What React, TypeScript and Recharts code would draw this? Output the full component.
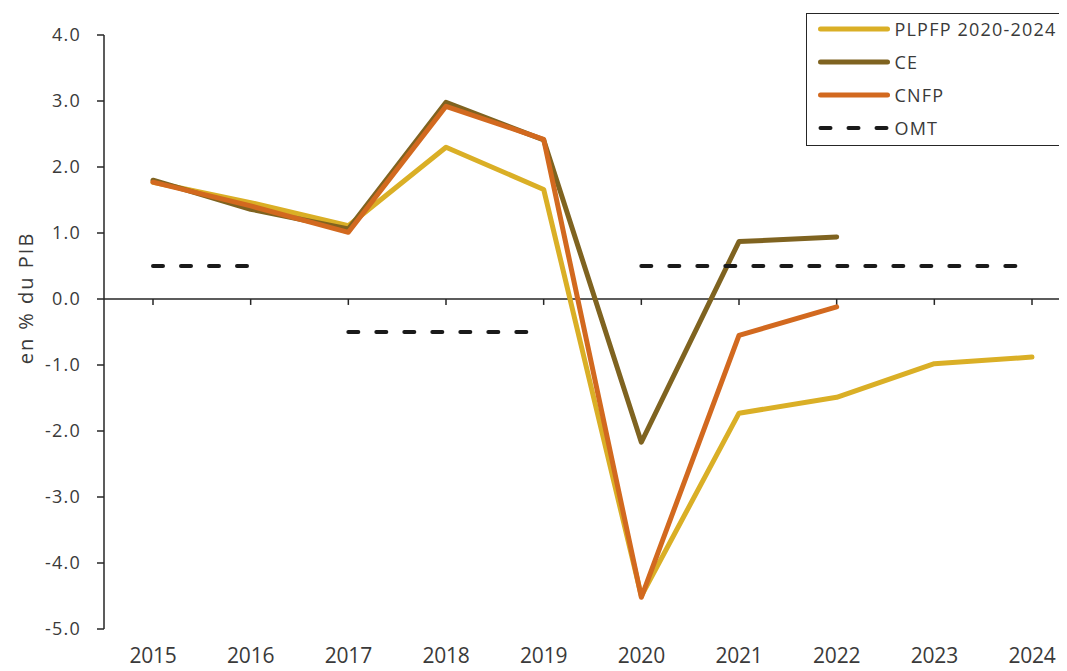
import {
  LineChart,
  Line,
  XAxis,
  YAxis,
  Legend,
  ReferenceLine,
} from "recharts";

const years = ["2015", "2016", "2017", "2018", "2019", "2020", "2021", "2022", "2023", "2024"];
const plpfp = [1.77, 1.46, 1.11, 2.3, 1.66, -4.5, -1.73, -1.49, -0.98, -0.88];
const ce = [1.8, 1.36, 1.06, 2.98, 2.41, -2.17, 0.87, 0.94, null, null];
const cnfp = [1.77, 1.41, 1.01, 2.92, 2.42, -4.52, -0.55, -0.12, null, null];
const omtHigh = [0.5, 0.5, null, null, null, 0.5, 0.5, 0.5, 0.5, 0.5];
const omtLow = [null, null, -0.5, -0.5, -0.5, null, null, null, null, null];
const yTicks = [-5, -4, -3, -2, -1, 0, 1, 2, 3, 4];
const legendOrder = ["PLPFP 2020-2024", "CE", "CNFP", "OMT"];

const data = years.map((year, i) => ({
  year,
  plpfp: plpfp[i],
  ce: ce[i],
  cnfp: cnfp[i],
  omtHigh: omtHigh[i],
  omtLow: omtLow[i],
}));

const FONT = "'Open Sans', sans-serif";
const TEXT = "#3a3a3a";
const AXIS = "#262626";

const tickStyle = { fontSize: 18, fill: TEXT, fontFamily: FONT, letterSpacing: 1.2 };
const xTickStyle = { fontSize: 21, fill: TEXT, fontFamily: FONT, letterSpacing: -0.2 };

// legend drawn as a bordered box like the source chart
function LegendBox({ payload }: any) {
  const items = legendOrder
    .map((name) => (payload || []).find((p: any) => p.value === name))
    .filter(Boolean);
  return (
    <div
      style={{
        border: `1.5px solid ${AXIS}`,
        height: 131,
        width: 300,
        boxSizing: "content-box",
        fontFamily: FONT,
        fontSize: 18,
        letterSpacing: 1.2,
        color: TEXT,
        background: "#fff",
      }}
    >
      <div style={{ marginTop: -2, paddingLeft: 10.5 }}>
        {items.map((entry: any) => (
          <div
            key={entry.value}
            style={{ display: "flex", alignItems: "center", height: 33 }}
          >
            <svg width={72} height={10} style={{ display: "block" }}>
              <line
                x1={2.5}
                y1={5}
                x2={69.5}
                y2={5}
                stroke={entry.color}
                strokeWidth={entry.payload?.strokeDasharray ? 4 : 5}
                strokeLinecap="round"
                strokeDasharray={entry.payload?.strokeDasharray}
              />
            </svg>
            <span style={{ marginLeft: 5, whiteSpace: "nowrap" }}>{entry.value}</span>
          </div>
        ))}
      </div>
    </div>
  );
}

function YLabel({ viewBox }: any) {
  const x = viewBox.x + 33;
  const y = viewBox.y + viewBox.height / 2 - 34;
  return (
    <text
      x={x}
      y={y}
      transform={`rotate(-90, ${x}, ${y})`}
      textAnchor="middle"
      fontSize={20}
      fill={TEXT}
      fontFamily={FONT}
      letterSpacing={2}
    >
      en % du PIB
    </text>
  );
}

export default function App() {
  return (
    <div style={{ margin: -8, width: 1067, height: 671, overflow: "hidden", background: "#fff" }}>
      <LineChart
        width={1067}
        height={671}
        data={data}
        margin={{ top: 35, right: 0, bottom: 0, left: 0 }}
      >
        <XAxis
          dataKey="year"
          height={42}
          padding={{ left: 49, right: 35 }}
          axisLine={false}
          tickLine={false}
          tickSize={6}
          tickMargin={13}
          tick={xTickStyle}
          interval={0}
        />
        <YAxis
          width={104}
          domain={[-5, 4]}
          ticks={yTicks}
          tickFormatter={(v: number) => v.toFixed(1)}
          axisLine={{ stroke: AXIS, strokeWidth: 1.5 }}
          tickLine={{ stroke: AXIS, strokeWidth: 1.5 }}
          tickSize={7}
          tickMargin={16}
          tick={tickStyle}
          interval={0}
          label={<YLabel />}
        />
        <ReferenceLine y={0} stroke={AXIS} strokeWidth={1.5} />
        {years.map((year) => (
          <ReferenceLine
            key={year}
            segment={[
              { x: year, y: 0 },
              { x: year, y: -0.09 },
            ]}
            stroke={AXIS}
            strokeWidth={1.5}
          />
        ))}
        <Legend
          verticalAlign="middle"
          align="center"
          layout="vertical"
          content={<LegendBox />}
          wrapperStyle={{ left: 806, top: 13, width: 320 }}
        />
        <Line
          dataKey="plpfp"
          name="PLPFP 2020-2024"
          stroke="#DAAF26"
          strokeWidth={5}
          strokeLinecap="round"
          strokeLinejoin="round"
          dot={false}
          activeDot={false}
          isAnimationActive={false}
        />
        <Line
          dataKey="ce"
          name="CE"
          stroke="#7F6320"
          strokeWidth={5}
          strokeLinecap="round"
          strokeLinejoin="round"
          dot={false}
          activeDot={false}
          isAnimationActive={false}
        />
        <Line
          dataKey="cnfp"
          name="CNFP"
          stroke="#D2691F"
          strokeWidth={5}
          strokeLinecap="round"
          strokeLinejoin="round"
          dot={false}
          activeDot={false}
          isAnimationActive={false}
        />
        <Line
          dataKey="omtHigh"
          name="OMT"
          stroke="#1a1a1a"
          strokeWidth={4}
          strokeDasharray="10 18"
          strokeLinecap="round"
          dot={false}
          activeDot={false}
          isAnimationActive={false}
        />
        <Line
          dataKey="omtLow"
          name="OMT bas"
          legendType="none"
          stroke="#1a1a1a"
          strokeWidth={4}
          strokeDasharray="10 18"
          strokeLinecap="round"
          dot={false}
          activeDot={false}
          isAnimationActive={false}
        />
      </LineChart>
    </div>
  );
}
